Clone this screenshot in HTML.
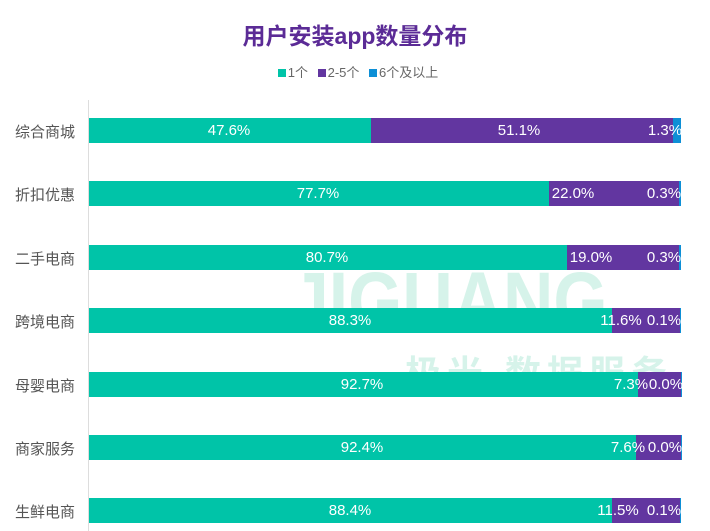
<!DOCTYPE html>
<html><head><meta charset="utf-8"><style>
body{margin:0;width:710px;height:531px;background:#fff;position:relative;overflow:hidden;font-family:"Liberation Sans","Noto Sans CJK SC",sans-serif}
.t{position:absolute;left:0;width:710px;top:17px;text-align:center;font-size:23px;font-weight:bold;color:#5b2b96}
.lg{position:absolute;top:62px;left:0;width:710px;text-align:center;font-size:13px;color:#666}
.lg span{display:inline-block;width:8px;height:8px;margin:0 2px 0 6px;vertical-align:0}
.ax{position:absolute;left:88px;top:100px;width:1px;height:431px;background:#ddd}
.bar{position:absolute;left:89px;height:25px;width:592px}
.bar div{position:absolute;top:0;height:25px}
.c{position:absolute;right:635px;font-size:15px;color:#555;white-space:nowrap}
.v{position:absolute;font-size:15px;color:#fff;transform:translateX(-50%);white-space:nowrap}
.wm{position:absolute;font-weight:bold;color:#d6f3ea;white-space:nowrap}
</style></head><body>
<div class="wm" style="left:290px;top:255px;font-size:82px;transform:scaleX(0.85);transform-origin:left top">JIGUANG</div>
<div class="wm" style="left:405px;top:345px;font-size:36px;letter-spacing:6px">极光 数据服务</div>
<div class="t">用户安装app数量分布</div>
<div class="lg"><span style="background:#00c4a8"></span>1个 <span style="background:#6236a0"></span>2-5个 <span style="background:#0d8fd6"></span>6个及以上</div>
<div class="ax"></div>
<div id="g"></div>
<script>
var d=[["综合商城",47.6,51.1,1.3,229,519,665],["折扣优惠",77.7,22.0,0.3,318,573,664],["二手电商",80.7,19.0,0.3,327,591,664],["跨境电商",88.3,11.6,0.1,350,621,664],["母婴电商",92.7,7.3,0.0,362,631,666],["商家服务",92.4,7.6,0.0,362,628,665],["生鲜电商",88.4,11.5,0.1,350,618,664]];
var h="";d.forEach(function(r,i){var y=118+i*63.4;var W=592,a=r[1]/100*W,b=r[2]/100*W,c=W-a-b;
h+='<div class="c" style="top:'+(y+3)+'px">'+r[0]+'</div>';
h+='<div class="bar" style="top:'+y+'px"><div style="left:0;width:'+a+'px;background:#00c4a8"></div><div style="left:'+a+'px;width:'+b+'px;background:#6236a0"></div><div style="left:'+(a+b)+'px;width:'+Math.max(c,1)+'px;background:#0d8fd6"></div></div>';
[[r[1],r[4]],[r[2],r[5]],[r[3],r[6]]].forEach(function(p){h+='<div class="v" style="top:'+(y+4)+'px;left:'+p[1]+'px">'+p[0].toFixed(1)+'%</div>';});});
document.getElementById("g").innerHTML=h;
</script>
</body></html>
